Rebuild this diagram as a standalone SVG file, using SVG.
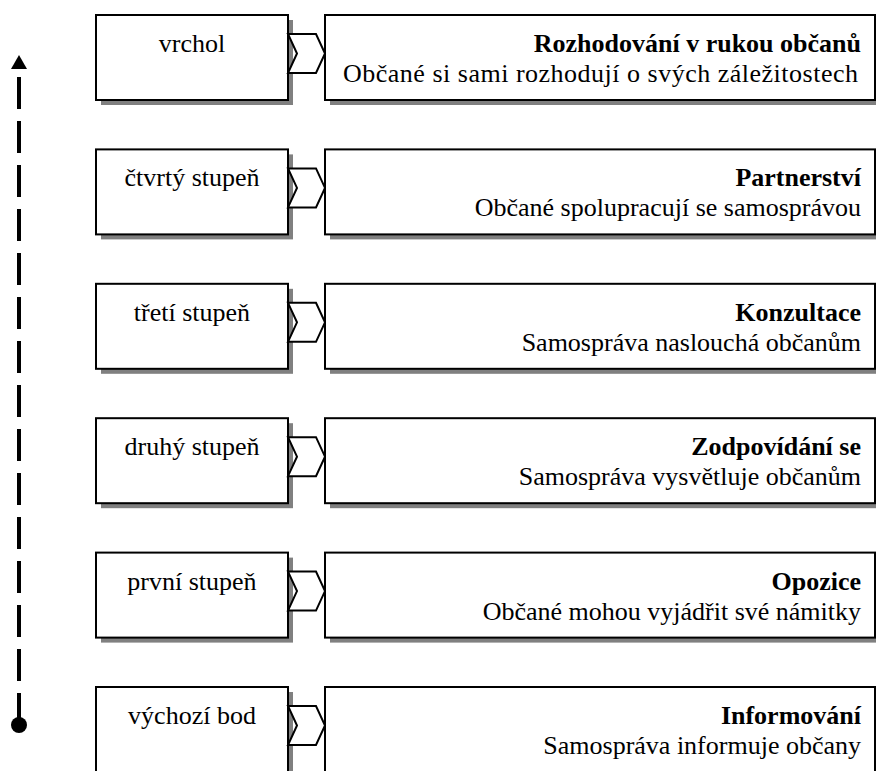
<svg xmlns="http://www.w3.org/2000/svg" width="876" height="771" viewBox="0 0 876 771">
<style>
.sh{fill:#808080}
.box{fill:#fff;stroke:#000;stroke-width:2}
.chev{fill:#fff;stroke:#000;stroke-width:2;stroke-linejoin:miter}
</style>
<defs>
<g id="row">
<rect class="sh" x="101" y="5" width="192" height="85"/>
<rect class="box" x="96" y="0" width="192" height="85"/>
<polygon class="chev" points="288,19 316,19 325,38.5 316,58 288,58 297,38.5"/>
<rect class="sh" x="330" y="5" width="560" height="85"/>
<rect class="box" x="325" y="0" width="550" height="85"/>
</g>
</defs>
<rect x="0" y="0" width="876" height="771" fill="#fff"/>
<g id="connectors">
<polygon points="19,55 11,69 27,69" fill="#000"/>
<line x1="19" y1="77" x2="19" y2="725" stroke="#000" stroke-width="4" stroke-dasharray="32 12"/>
<circle cx="19" cy="725" r="8" fill="#000"/>
</g>
<g id="n1" transform="translate(0,15)">
<use href="#row"/>
<text x="192" y="37" font-family="Liberation Serif" font-size="26" text-anchor="middle">vrchol</text>
<text x="861" y="37" font-family="Liberation Serif" font-size="26" font-weight="bold" text-anchor="end">Rozhodování v rukou občanů</text>
<text x="343" y="67" font-family="Liberation Serif" font-size="26" textLength="515" lengthAdjust="spacing">Občané si sami rozhodují o svých záležitostech</text>
</g>
<g id="n2" transform="translate(0,149.4)">
<use href="#row"/>
<text x="192" y="37" font-family="Liberation Serif" font-size="26" text-anchor="middle">čtvrtý stupeň</text>
<text x="861" y="37" font-family="Liberation Serif" font-size="26" font-weight="bold" text-anchor="end">Partnerství</text>
<text x="861" y="67" font-family="Liberation Serif" font-size="26" text-anchor="end">Občané spolupracují se samosprávou</text>
</g>
<g id="n3" transform="translate(0,283.8)">
<use href="#row"/>
<text x="192" y="37" font-family="Liberation Serif" font-size="26" text-anchor="middle">třetí stupeň</text>
<text x="861" y="37" font-family="Liberation Serif" font-size="26" font-weight="bold" text-anchor="end">Konzultace</text>
<text x="861" y="67" font-family="Liberation Serif" font-size="26" text-anchor="end">Samospráva naslouchá občanům</text>
</g>
<g id="n4" transform="translate(0,418.2)">
<use href="#row"/>
<text x="192" y="37" font-family="Liberation Serif" font-size="26" text-anchor="middle">druhý stupeň</text>
<text x="861" y="37" font-family="Liberation Serif" font-size="26" font-weight="bold" text-anchor="end">Zodpovídání se</text>
<text x="861" y="67" font-family="Liberation Serif" font-size="26" text-anchor="end">Samospráva vysvětluje občanům</text>
</g>
<g id="n5" transform="translate(0,552.6)">
<use href="#row"/>
<text x="192" y="37" font-family="Liberation Serif" font-size="26" text-anchor="middle">první stupeň</text>
<text x="861" y="37" font-family="Liberation Serif" font-size="26" font-weight="bold" text-anchor="end">Opozice</text>
<text x="861" y="67" font-family="Liberation Serif" font-size="26" text-anchor="end">Občané mohou vyjádřit své námitky</text>
</g>
<g id="n6" transform="translate(0,687)">
<use href="#row"/>
<text x="192" y="37" font-family="Liberation Serif" font-size="26" text-anchor="middle">výchozí bod</text>
<text x="861" y="37" font-family="Liberation Serif" font-size="26" font-weight="bold" text-anchor="end">Informování</text>
<text x="861" y="67" font-family="Liberation Serif" font-size="26" text-anchor="end">Samospráva informuje občany</text>
</g>
</svg>
